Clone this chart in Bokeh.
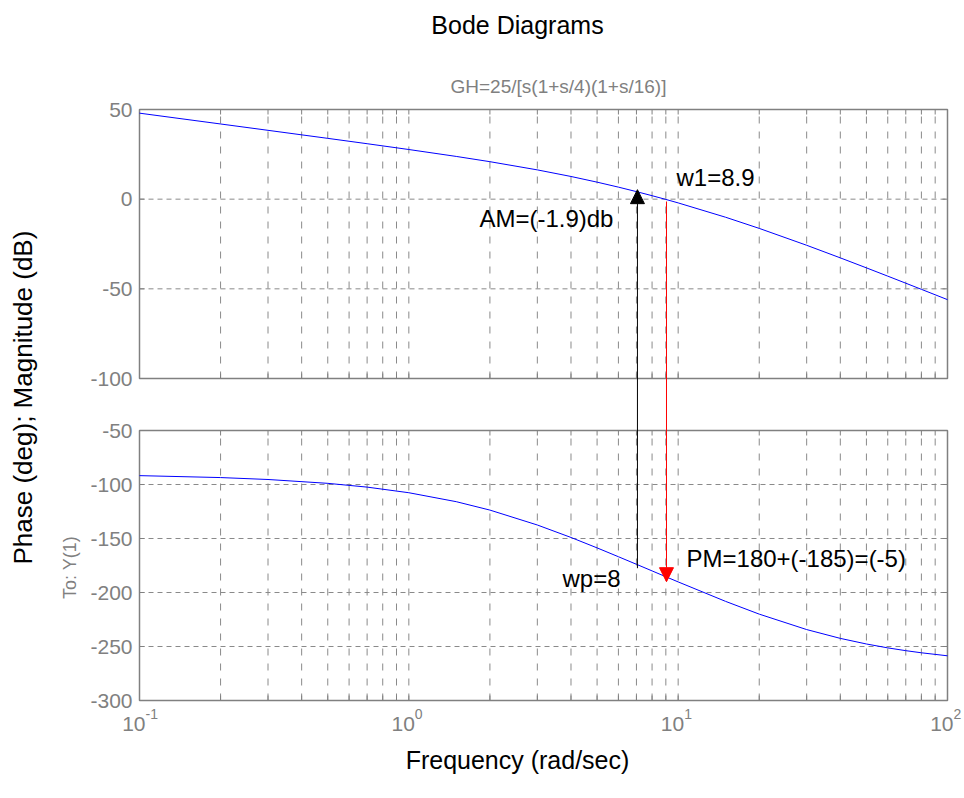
import numpy as np
from bokeh.plotting import figure
from bokeh.models import (Range1d, Label, LabelSet, ColumnDataSource, Arrow, NormalHead)
from bokeh.core.properties import value
from bokeh.embed import file_html
from bokeh.resources import INLINE

# ---------------- data ----------------
freq = [0.1, 0.2, 0.3, 0.5, 0.7, 1, 1.5, 2, 3, 4, 5, 6, 7, 8, 9, 10,
        15, 20, 30, 40, 50, 60, 70, 80, 100]
mag_db = [47.96, 41.93, 38.39, 33.91, 30.92, 27.68, 23.83, 20.90, 16.33, 12.65,
          9.49, 6.71, 4.21, 1.94, -0.14, -2.08, -10.08, -16.30, -25.71, -32.73,
          -38.31, -42.92, -46.86, -50.28, -56.03]
phase_deg = [-91.79, -93.58, -95.36, -98.92, -102.43, -107.61, -115.91, -123.69,
             -137.49, -149.04, -158.69, -166.87, -173.88, -180.00, -185.40,
             -190.20, -208.22, -220.03, -234.33, -242.49, -247.68, -251.26,
             -253.86, -255.83, -258.62]

mag_ticks = [50, 0, -50, -100]
phase_ticks = [-50, -100, -150, -200, -250, -300]
x_ticks = [0.1, 1, 10, 100]
x_tick_base = ["10", "10", "10", "10"]
x_tick_exp = ["-1", "0", "1", "2"]
x_grid = [0.2, 0.3, 0.4, 0.5, 0.6, 0.7, 0.8, 0.9, 1, 2, 3, 4, 5, 6, 7, 8, 9, 10,
          20, 30, 40, 50, 60, 70, 80, 90]
mag_grid = [0, -50]
phase_grid = [-100, -150, -200, -250]

# margin arrows
am_x, am_phase_start, am_db_end = 7.06, -177.5, 5.3
pm_x, pm_db_start, pm_phase_end = 9.05, -1.3, -190.0

# ---------------- layout constants (pixels) ----------------
W, H = 964, 798
TOP, MID1, MID2, BOT = 109, 378, 430, 700
LEFT, RIGHT = 139, 947
DEC_PX = (RIGHT - LEFT) / 3.0
DB_PX = (MID1 - TOP) / 150.0
PH_PX = (BOT - MID2) / 250.0
TICK = 5

FONT = "Liberation Sans"
GREY = "#808080"
GRID = "#8a8a8a"

# the frame fills the whole canvas; the two panels are drawn inside it
x_range = Range1d(10 ** (-1 - LEFT / DEC_PX), 10 ** (-1 + (W - LEFT) / DEC_PX))
db_range = Range1d(50 - (H - TOP) / DB_PX, 50 + TOP / DB_PX)
ph_range = Range1d(-300 - (H - BOT) / PH_PX, -50 + MID2 / PH_PX)


def xpx(px):
    return 10 ** (-1 + (px - LEFT) / DEC_PX)


def ypx(py):
    return 50 - (py - TOP) / DB_PX


def phase_to_db(ph):
    return ypx(BOT - (ph + 300) * PH_PX)


p = figure(width=W, height=H, x_axis_type="log", x_range=x_range, y_range=db_range,
           x_axis_location=None, y_axis_location=None,
           output_backend="svg", toolbar_location=None,
           min_border_left=0, min_border_right=0, min_border_top=0, min_border_bottom=0)
p.extra_y_ranges = {"phase": ph_range}
p.outline_line_color = None
p.background_fill_color = "white"
p.border_fill_color = "white"
p.xgrid.visible = False
p.ygrid.visible = False

n = len(x_grid)
# grids
p.segment(x0=x_grid, x1=x_grid, y0=[-100] * n, y1=[50] * n,
          line_color=GRID, line_width=1, line_dash="7 8")
p.segment(x0=x_grid, x1=x_grid, y0=[-300] * n, y1=[-50] * n,
          line_color=GRID, line_width=1, line_dash="7 8", y_range_name="phase")
p.segment(x0=[0.1] * len(mag_grid), x1=[100] * len(mag_grid), y0=mag_grid, y1=mag_grid,
          line_color=GRID, line_width=1, line_dash="5 4")
p.segment(x0=[0.1] * len(phase_grid), x1=[100] * len(phase_grid), y0=phase_grid,
          y1=phase_grid, line_color=GRID, line_width=1, line_dash="5 4",
          y_range_name="phase")

# inward ticks on every border
dbt, pht, xt = TICK / DB_PX, TICK / PH_PX, 10 ** (TICK / DEC_PX)
p.segment(x0=x_grid * 2, x1=x_grid * 2, y0=[50] * n + [-100] * n,
          y1=[50 - dbt] * n + [-100 + dbt] * n, line_color=GREY, line_width=1)
p.segment(x0=x_grid * 2, x1=x_grid * 2, y0=[-50] * n + [-300] * n,
          y1=[-50 - pht] * n + [-300 + pht] * n, line_color=GREY, line_width=1,
          y_range_name="phase")
p.segment(x0=[0.1] * len(mag_grid) + [100] * len(mag_grid),
          x1=[0.1 * xt] * len(mag_grid) + [100 / xt] * len(mag_grid),
          y0=mag_grid * 2, y1=mag_grid * 2, line_color=GREY, line_width=1)
p.segment(x0=[0.1] * len(phase_grid) + [100] * len(phase_grid),
          x1=[0.1 * xt] * len(phase_grid) + [100 / xt] * len(phase_grid),
          y0=phase_grid * 2, y1=phase_grid * 2, line_color=GREY, line_width=1,
          y_range_name="phase")

# panel borders
p.quad(left=[0.1], right=[100], top=[50], bottom=[-100], fill_color=None,
       line_color=GREY, line_width=1.5)
p.quad(left=[0.1], right=[100], top=[-50], bottom=[-300], fill_color=None,
       line_color=GREY, line_width=1.5, y_range_name="phase")

# curves
p.line(freq, mag_db, line_color="#0000ff", line_width=1)
p.line(freq, phase_deg, line_color="#0000ff", line_width=1, y_range_name="phase")

# arrows
p.add_layout(Arrow(end=NormalHead(size=14, fill_color="black", line_color="black"),
                   x_start=am_x, y_start=phase_to_db(am_phase_start),
                   x_end=am_x, y_end=am_db_end, line_color="black", line_width=1))
p.add_layout(Arrow(end=NormalHead(size=14, fill_color="red", line_color="red"),
                   x_start=pm_x, y_start=pm_db_start,
                   x_end=pm_x, y_end=phase_to_db(pm_phase_end),
                   line_color="red", line_width=1))

# y tick labels
src_m = ColumnDataSource(dict(x=[0.1] * len(mag_ticks), y=mag_ticks,
                              t=[str(v) for v in mag_ticks]))
src_p = ColumnDataSource(dict(x=[0.1] * len(phase_ticks), y=phase_ticks,
                              t=[str(v) for v in phase_ticks]))
for src, rn in ((src_m, "default"), (src_p, "phase")):
    p.add_layout(LabelSet(x="x", y="y", text="t", source=src, x_offset=-7,
                          y_range_name=rn, text_align="right", text_baseline="middle",
                          text_font=value(FONT), text_font_size="21px",
                          text_color=GREY))

# x tick labels: "10" with a raised exponent
src_xb = ColumnDataSource(dict(x=x_ticks, y=[ypx(723)] * len(x_ticks), t=x_tick_base))
src_xe = ColumnDataSource(dict(x=x_ticks, y=[ypx(713)] * len(x_ticks), t=x_tick_exp))
p.add_layout(LabelSet(x="x", y="y", text="t", source=src_xb, x_offset=6,
                      text_align="right", text_baseline="middle",
                      text_font=value(FONT), text_font_size="21px", text_color=GREY))
p.add_layout(LabelSet(x="x", y="y", text="t", source=src_xe, x_offset=6,
                      text_align="left", text_baseline="middle",
                      text_font=value(FONT), text_font_size="14px", text_color=GREY))


# texts
def lab(x, y, text, size, color="black", align="center", angle=0.0, rn="default"):
    p.add_layout(Label(x=x, y=y, text=text, text_font=FONT, text_font_size=size,
                       text_color=color, text_align=align, text_baseline="middle",
                       angle=angle, y_range_name=rn))


lab(xpx(517), ypx(24), "Bode Diagrams", "25px")
lab(xpx(558), ypx(86), "GH=25/[s(1+s/4)(1+s/16)]", "19px", color=GREY)
lab(xpx(517), ypx(759), "Frequency (rad/sec)", "25px")
lab(xpx(22), ypx(564), "Phase (deg); Magnitude (dB)", "26px", align="left",
    angle=np.pi / 2)
lab(xpx(69), ypx(567), "To: Y(1)", "18px", color=GREY, angle=np.pi / 2)

lab(9.86, 12.1, "w1=8.9", "24px", align="left")
lab(5.75, -10.8, "AM=(-1.9)db", "24px", align="right")
lab(10.74, -168.5, "PM=180+(-185)=(-5)", "24px", align="left", rn="phase")
lab(6.11, -187.0, "wp=8", "24px", align="right", rn="phase")

open("out.html", "w").write(file_html(p, INLINE))
